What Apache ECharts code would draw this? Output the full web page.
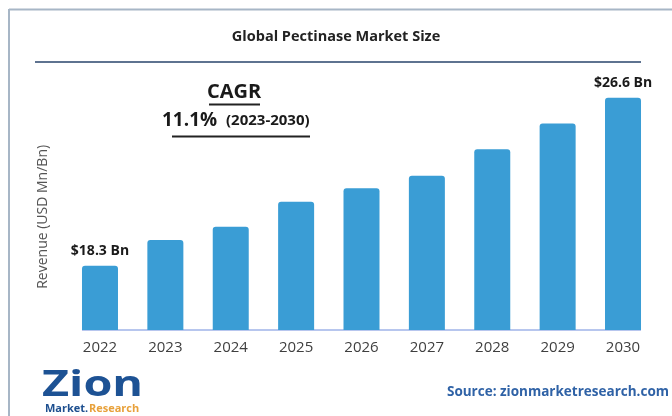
<!DOCTYPE html>
<html>
<head>
<meta charset="utf-8">
<script src="https://cdn.jsdelivr.net/npm/echarts@6/dist/echarts.min.js"></script>
<style>
  html, body { margin: 0; padding: 0; background: #ffffff; }
  #chart { width: 672px; height: 416px; }
</style>
</head>
<body>
<div id="chart"></div>
<script>
// Global pectinase market revenue, USD billion
const years = ['2022', '2023', '2024', '2025', '2026', '2027', '2028', '2029', '2030'];
const revenue = [18.3, 19.57, 20.22, 21.46, 22.12, 22.74, 24.05, 25.33, 26.6];
const labelledYears = ['2022', '2030'];

const titleText = 'Global Pectinase Market Size';
const yAxisName = 'Revenue (USD Mn/Bn)';
const cagrValue = '11.1%';
const cagrPeriod = '(2023-2030)';
const sourceText = 'Source: zionmarketresearch.com';

const barColor = '#3a9dd5';
const fontFamily = '"Open Sans", "Noto Sans", sans-serif';

const chart = echarts.init(document.getElementById('chart'), null, { renderer: 'canvas' });

const seriesData = revenue.map((v, i) => ({
  value: v,
  label: { show: labelledYears.includes(years[i]) }
}));

const yMin = 15.12;

chart.setOption({
  backgroundColor: '#ffffff',
  animation: false,
  grid: { left: 67.3, right: 16.3, top: 97.7, bottom: 86 },
  xAxis: {
    type: 'category',
    data: years,
    axisLine: { show: false },
    axisTick: { show: false },
    axisLabel: {
      color: '#3f3f3f',
      fontSize: 15,
      fontFamily: fontFamily,
      margin: 10
    }
  },
  yAxis: {
    type: 'value',
    min: yMin,
    max: 26.6,
    axisLine: { show: false },
    axisTick: { show: false },
    axisLabel: { show: false },
    splitLine: { show: false },
    name: yAxisName,
    nameLocation: 'middle',
    nameGap: 17,
    nameTextStyle: {
      color: '#555555',
      fontSize: 14,
      fontFamily: fontFamily,
      padding: [0, 6, 0, 0]
    }
  },
  series: [{
    type: 'bar',
    data: seriesData,
    barWidth: 36,
    itemStyle: { color: barColor, borderRadius: [3, 3, 0, 0] },
    label: {
      position: 'top',
      distance: 8,
      color: '#1a1a1a',
      fontSize: 14,
      fontWeight: 'bold',
      fontFamily: fontFamily,
      formatter: p => '$' + p.value.toFixed(1) + ' Bn'
    }
  }]
});

// Baseline spanning from the first bar's left edge to the last bar's right edge
const halfBar = 18;
const x0 = chart.convertToPixel({ xAxisIndex: 0 }, years[0]) - halfBar;
const x1 = chart.convertToPixel({ xAxisIndex: 0 }, years[years.length - 1]) + halfBar;
const yBase = chart.convertToPixel({ yAxisIndex: 0 }, yMin);

chart.setOption({
  graphic: [
    // frame: top and left edges
    { type: 'line', shape: { x1: 9, y1: 9.5, x2: 672, y2: 9.5 },
      style: { stroke: '#a7b6c6', lineWidth: 2 } },
    { type: 'line', shape: { x1: 9, y1: 9, x2: 9, y2: 416 },
      style: { stroke: '#a7b6c6', lineWidth: 2 } },
    // title and rule
    { type: 'text', left: 'center', top: 29,
      style: { text: titleText, fill: '#222222', font: 'bold 14.5px ' + fontFamily } },
    { type: 'line', shape: { x1: 35, y1: 62, x2: 641, y2: 62 },
      style: { stroke: '#5e7390', lineWidth: 2 } },
    // axis baseline
    { type: 'line', shape: { x1: x0, y1: yBase, x2: x1, y2: yBase },
      style: { stroke: '#9fb3e8', lineWidth: 1.5 } },
    // CAGR block
    { type: 'text', x: 234, y: 92,
      style: { text: 'CAGR', fill: '#1a1a1a', font: 'bold 20px ' + fontFamily,
               align: 'center', verticalAlign: 'middle' } },
    { type: 'line', shape: { x1: 209, y1: 104.5, x2: 260, y2: 104.5 },
      style: { stroke: '#222222', lineWidth: 2 } },
    { type: 'text', x: 162, y: 121,
      style: { text: cagrValue, fill: '#1a1a1a', font: 'bold 19px ' + fontFamily,
               align: 'left', verticalAlign: 'middle' } },
    { type: 'text', x: 226, y: 121,
      style: { text: cagrPeriod, fill: '#1a1a1a', font: 'bold 15px ' + fontFamily,
               align: 'left', verticalAlign: 'middle' } },
    { type: 'line', shape: { x1: 172, y1: 136.5, x2: 310, y2: 136.5 },
      style: { stroke: '#222222', lineWidth: 2 } },
    // logo
    { type: 'text', x: 42, y: 386, scaleX: 1.3, originX: 0, originY: 0,
      style: { text: 'Zion', fill: '#1d5294', font: 'bold 36px ' + fontFamily,
               align: 'left', verticalAlign: 'middle' } },
    { type: 'text', x: 45, y: 409,
      style: { text: 'Market.', fill: '#1d4f8f', font: 'bold 11px ' + fontFamily,
               align: 'left', verticalAlign: 'middle' } },
    { type: 'text', x: 89, y: 409,
      style: { text: 'Research', fill: '#e8a13a', font: 'bold 11px ' + fontFamily,
               align: 'left', verticalAlign: 'middle' } },
    // source
    { type: 'text', right: 3, top: 385,
      style: { text: sourceText, fill: '#2f62a6', font: 'bold 13.5px ' + fontFamily } }
  ]
});
</script>
</body>
</html>
